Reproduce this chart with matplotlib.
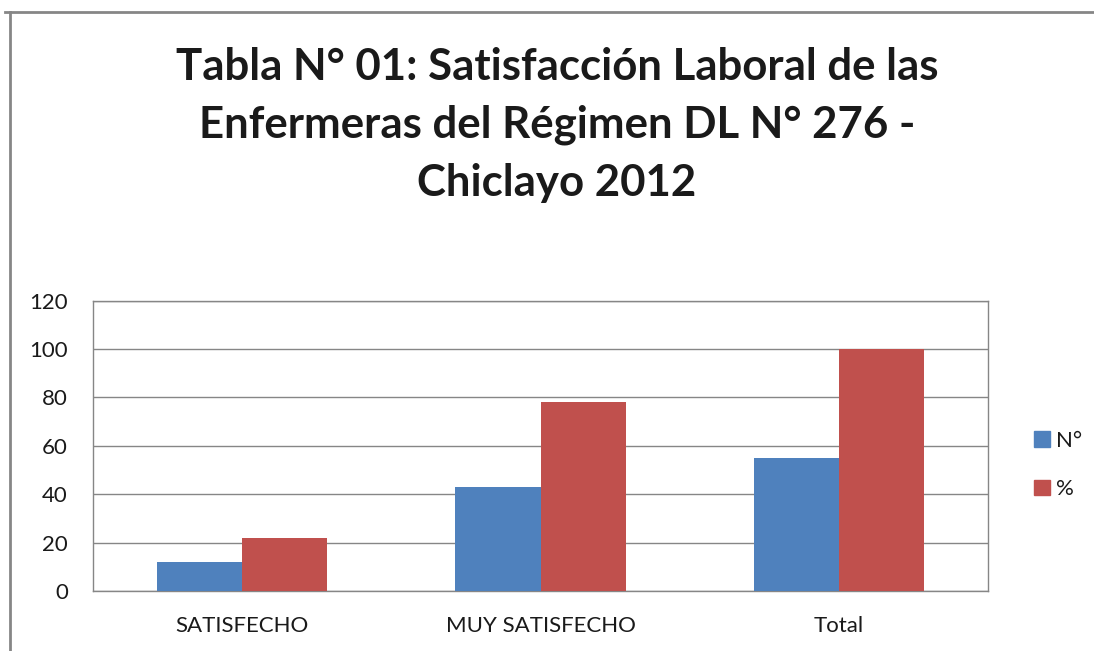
import matplotlib
matplotlib.use("Agg")
import matplotlib.pyplot as plt
import numpy as np
from matplotlib.lines import Line2D
from matplotlib.patches import Patch

categories = ["SATISFECHO", "MUY SATISFECHO", "Total"]
series_names = ["N°", "%"]
n_values = [12, 43, 55]
pct_values = [21.8, 78.2, 100]
yticks = [0, 20, 40, 60, 80, 100, 120]

blue = "#4F81BD"
red = "#C0504D"
grid = "#868686"
txt = "#1a1a1a"

plt.rcParams['font.family'] = ['Lato', 'DejaVu Sans']

W, H = 1094, 651
fig = plt.figure(figsize=(W/100, H/100), dpi=100)

# outer chart border (top and left visible)
fig.add_artist(Line2D([5/W, 1], [1-12/H, 1-12/H], color=grid, lw=2, transform=fig.transFigure))
fig.add_artist(Line2D([10/W, 10/W], [0, 1-12/H], color=grid, lw=2, transform=fig.transFigure))

left, right = 93, 988
top, bottom = 300.6, 591
ax = fig.add_axes([left/W, 1-bottom/H, (right-left)/W, (bottom-top)/H])

x = np.arange(len(categories))
bw = 0.285
ax.bar(x - bw/2, n_values, bw, color=blue, label=series_names[0], zorder=3)
ax.bar(x + bw/2, pct_values, bw, color=red, label=series_names[1], zorder=3)

ax.set_xlim(-0.5, len(categories) - 0.5)
ax.set_ylim(0, 120)
ax.set_yticks(yticks)
ax.set_yticklabels([str(v) for v in yticks], fontsize=16, color=txt)
ax.set_xticks(x)
ax.set_xticklabels(categories, fontsize=16, color=txt)
ax.tick_params(axis='both', length=0)
ax.tick_params(axis='y', pad=18)
ax.tick_params(axis='x', pad=18)
ax.yaxis.grid(True, color=grid, lw=1, zorder=0)
for s in ax.spines.values():
    s.set_color(grid)
    s.set_linewidth(1)

fig.text(557/W, 1-125/H,
         "Tabla N° 01: Satisfacción Laboral de las\nEnfermeras del Régimen DL N° 276 -\nChiclayo 2012",
         ha='center', va='center', fontsize=31.5, fontweight='bold', color=txt, linespacing=1.55)

handles = [Patch(color=blue), Patch(color=red)]
fig.legend(handles, series_names, loc='center left', bbox_to_anchor=(1014/W, 1-465/H),
           frameon=False, fontsize=16, handlelength=0.7, handleheight=0.7,
           handletextpad=0.3, labelspacing=1.3, labelcolor=txt)

fig.savefig("out.png", dpi=100)
